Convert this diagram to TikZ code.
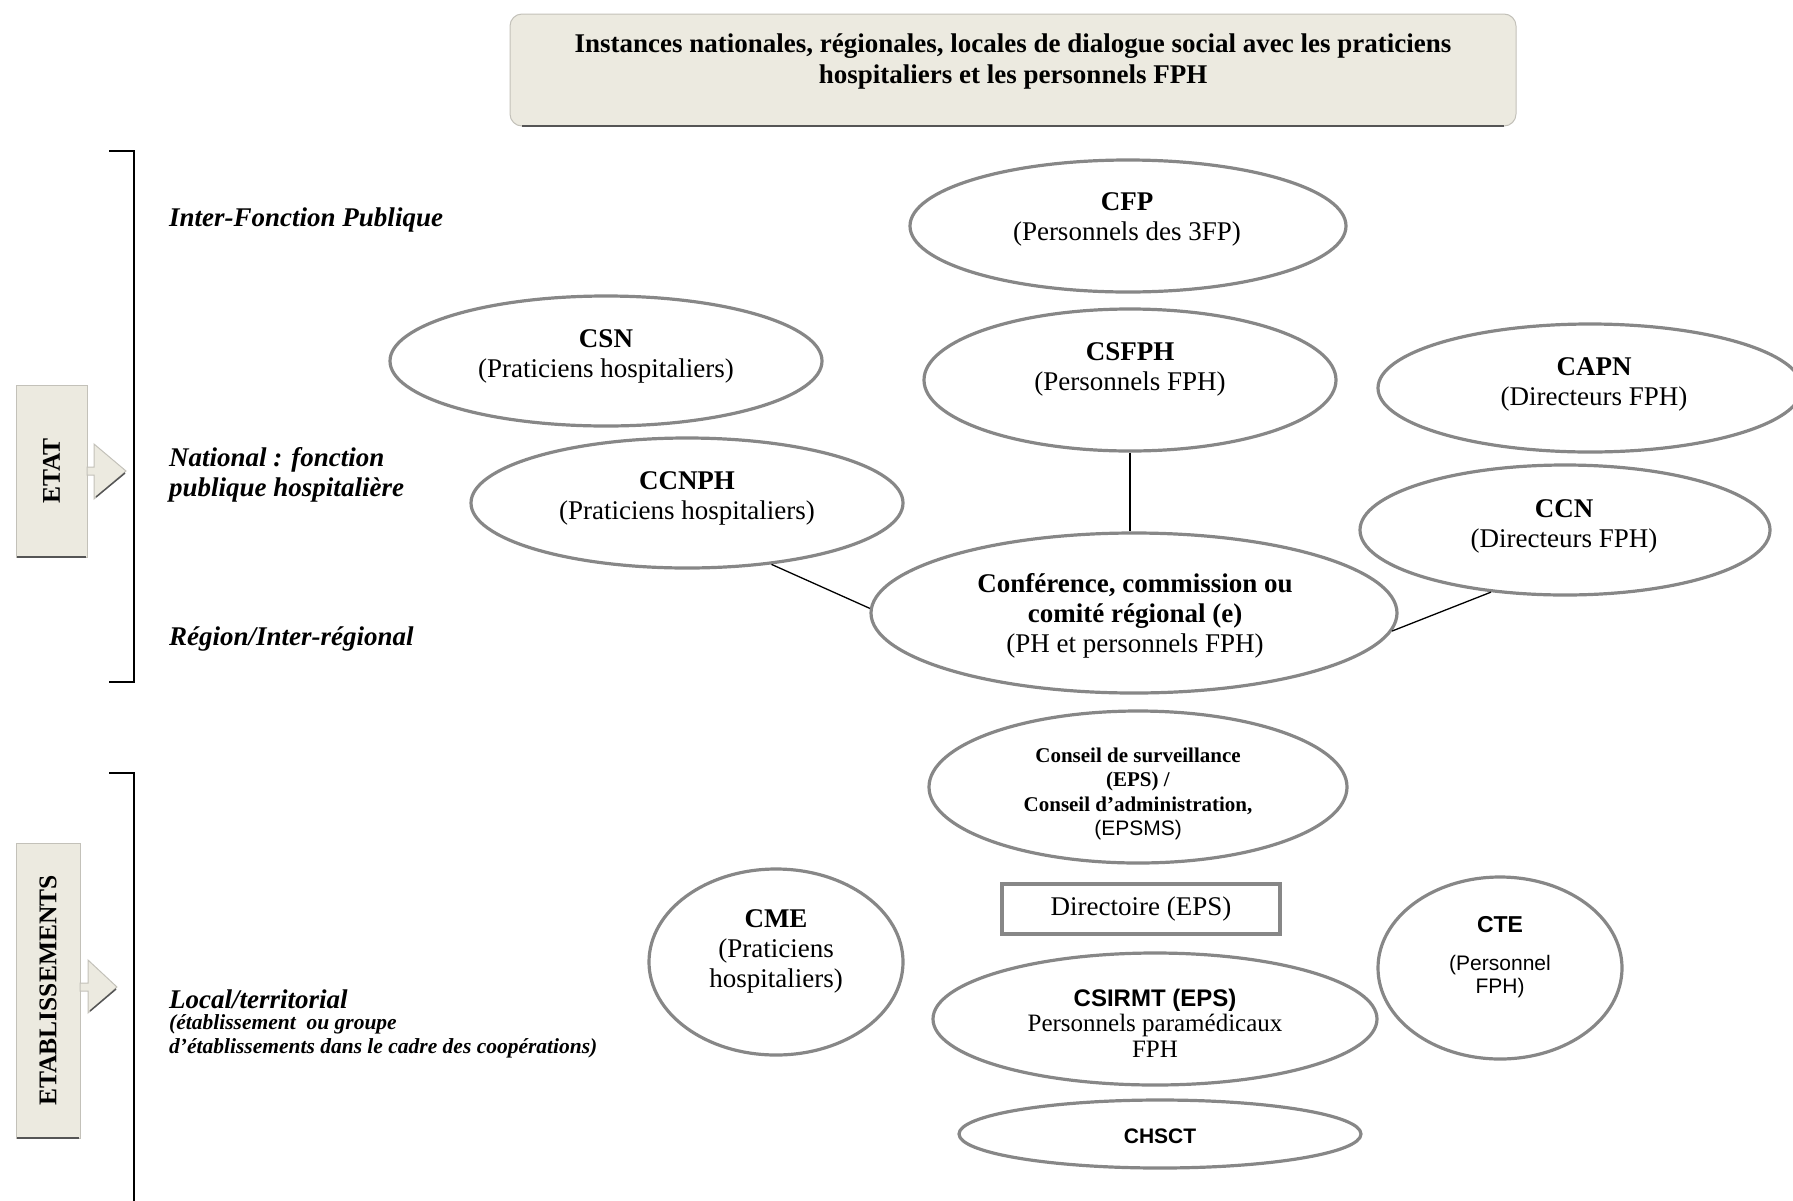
\documentclass[tikz,border=0pt]{standalone}
\usepackage{fontspec}
\setmainfont{Liberation Serif}
\setsansfont{Liberation Sans}
\usetikzlibrary{shapes.geometric}
\newcommand{\fsz}[2]{\fontsize{#1}{#2}\selectfont}
\definecolor{ellgray}{RGB}{135,135,135}
\definecolor{boxfill}{RGB}{236,234,224}
\definecolor{boxedge}{RGB}{195,193,185}
\definecolor{shadowc}{RGB}{85,85,85}
\tikzset{
  ell/.style={ellipse, draw=ellgray, line width=3.2pt, inner sep=0pt},
  txt/.style={align=center, inner sep=0pt, yshift=-3pt, font=\fsz{27}{30}},
  lbl/.style={anchor=west, align=left, inner sep=0pt, yshift=-3pt, font=\bfseries\itshape\fsz{27}{30}},
  lblsmall/.style={anchor=west, align=left, inner sep=0pt, yshift=-2pt, font=\bfseries\itshape\fsz{21.5}{24}},
  sidebox/.style={rectangle, fill=boxfill, draw=boxedge, line width=1pt, inner sep=0pt, font=\bfseries\fsz{25.5}{28}},
  arrowst/.style={fill=boxfill, draw=boxedge, line width=1pt},
  conn/.style={draw=black, line width=1.3pt},
  brack/.style={draw=black, line width=2pt},
}
\begin{document}
\begin{tikzpicture}[x=1pt,y=-1pt]
\useasboundingbox (0,0) rectangle (1793,1200);
% title
\node[rectangle, rounded corners=12pt, fill=boxfill, draw=boxedge, line width=1pt,
      minimum width=1006pt, minimum height=112pt] (tbox) at (1013,70) {};
\draw[shadowc, line width=2.5pt] (522,126) -- (1504,126);
\node[txt, font=\bfseries\fsz{27}{31}] (title) at (1013,58)
  {Instances nationales, régionales, locales de dialogue social avec les praticiens\\hospitaliers et les personnels FPH};

% brackets
\draw[brack] (109,151) -- (134,151) -- (134,682) -- (109,682);
\draw[brack] (109,773) -- (134,773) -- (134,1205);

% side boxes
\node[sidebox, rotate=90, minimum width=172pt, minimum height=71pt] (etat) at (51.5,471) {ETAT};
\draw[shadowc, line width=2pt] (17,557) -- (86,557);
\draw[arrowst] (87,467) -- (94,467) -- (94,444) -- (126,471) -- (94,499) -- (94,475) -- (87,475) -- cycle;
\draw[shadowc, line width=1.5pt] (96,497) -- (125,473);

\node[sidebox, rotate=90, minimum width=295pt, minimum height=64pt] (etab) at (48,990.5) {ETABLISSEMENTS};
\draw[shadowc, line width=2pt] (17,1138) -- (79,1138);
\draw[arrowst] (80,983) -- (88,983) -- (88,960) -- (117,987) -- (88,1013) -- (88,991) -- (80,991) -- cycle;
\draw[shadowc, line width=1.5pt] (90,1011) -- (116,989);

% left labels
\node[lbl] (l1) at (169,217) {Inter-Fonction Publique};
\node[lbl] (l2) at (169,472) {National : fonction\\publique hospitalière};
\node[lbl] (l3) at (169,636) {Région/Inter-régional};
\node[lbl] (l4) at (169,996) {Local/territorial};
\node[lblsmall] (l5) at (169,1034) {(établissement\ \ ou groupe\\d'établissements dans le cadre des coopérations)};

% ellipses
\node[ell, minimum width=436pt, minimum height=132pt] (cfp) at (1128,226) {};
\node[txt] (cfpt) at (1127,216) {\textbf{CFP}\\(Personnels des 3FP)};

\node[ell, minimum width=432pt, minimum height=130pt] (csn) at (606,361) {};
\node[txt] (csnt) at (606,353) {\textbf{CSN}\\(Praticiens hospitaliers)};

\node[ell, minimum width=412pt, minimum height=142pt] (csfph) at (1130,380) {};
\node[txt] (csfpht) at (1130,366) {\textbf{CSFPH}\\(Personnels FPH)};

\node[ell, minimum width=424pt, minimum height=128pt] (capn) at (1590,388) {};
\node[txt] (capnt) at (1594,381) {\textbf{CAPN}\\(Directeurs FPH)};

\node[ell, minimum width=432pt, minimum height=130pt] (ccnph) at (687,503) {};
\node[txt] (ccnpht) at (687,495) {\textbf{CCNPH}\\(Praticiens hospitaliers)};

\node[ell, minimum width=410pt, minimum height=130pt] (ccn) at (1565,530) {};
\node[txt] (ccnt) at (1564,523) {\textbf{CCN}\\(Directeurs FPH)};

\node[ell, minimum width=526pt, minimum height=160pt] (conf) at (1134,613) {};
\node[txt] (conft) at (1135,613) {\textbf{Conférence, commission ou}\\\textbf{comité régional (e)}\\(PH et personnels FPH)};

\node[ell, minimum width=418pt, minimum height=152pt] (cons) at (1138,787) {};
\node[txt, font=\fsz{21}{24.5}] (const) at (1138,791)
  {\textbf{Conseil de surveillance}\\\textbf{(EPS) /}\\\textbf{Conseil d'administration,}\\{\sffamily (EPSMS)}};

\node[rectangle, draw=ellgray, line width=3.2pt, minimum width=278pt, minimum height=50pt, inner sep=0pt,
      font=\fsz{27}{30}] (dir) at (1141,909) {Directoire (EPS)};

\node[ell, minimum width=254pt, minimum height=186pt] (cme) at (776,962) {};
\node[txt] (cmet) at (776,948) {\textbf{CME}\\(Praticiens\\hospitaliers)};

\node[ell, minimum width=444pt, minimum height=132pt] (csirmt) at (1155,1019) {};
\node[txt, font=\fsz{25}{25.5}] (csirmtt) at (1155,1020)
  {{\sffamily\bfseries\fsz{24}{25.5}CSIRMT (EPS)}\\Personnels paramédicaux\\FPH};

\node[ell, minimum width=244pt, minimum height=182pt] (cte) at (1500,968) {};
\node[txt, font=\sffamily\fsz{21}{23}] (ctet) at (1500,954)
  {{\bfseries\fsz{23}{23}CTE}\\[15pt](Personnel\\FPH)};

\node[ell, minimum width=402pt, minimum height=68pt] (chsct) at (1160,1134) {};
\node[txt, font=\sffamily\bfseries\fsz{21}{24}] (chsctt) at (1160,1133) {CHSCT};

% connectors
\draw[conn] (csfph.south) -- (csfph.south |- conf.north);
\draw[conn] (ccnph.-36) -- (conf.179);
\draw[conn] (ccn.220) -- (conf.-4);
\end{tikzpicture}
\end{document}
